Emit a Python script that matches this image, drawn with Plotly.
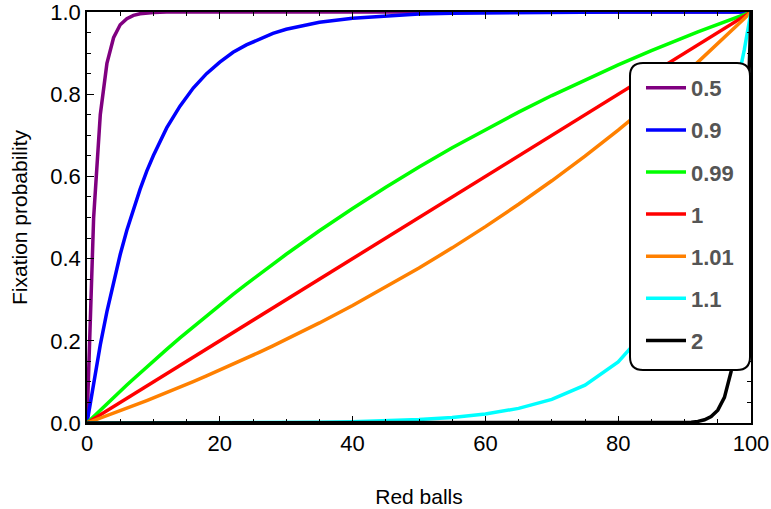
import plotly.graph_objects as go

# Data
red_balls = [0, 1, 2, 3, 4, 5, 6, 7, 8, 9, 10, 12, 14, 16, 18, 20, 22, 24, 26, 28, 30,
             35, 40, 45, 50, 55, 60, 65, 70, 75, 80, 85, 86, 87, 88, 89, 90, 91, 92,
             93, 94, 95, 96, 97, 98, 99, 100]

p_0_5 = [0, 0.5, 0.75, 0.875, 0.9375, 0.969, 0.984, 0.992, 0.996, 0.998, 0.999,
         1, 1, 1, 1, 1, 1, 1, 1, 1, 1, 1, 1, 1, 1, 1, 1, 1, 1, 1, 1, 1, 1, 1, 1, 1,
         1, 1, 1, 1, 1, 1, 1, 1, 1, 1, 1]
p_0_9 = [0, 0.1, 0.19, 0.271, 0.344, 0.41, 0.469, 0.522, 0.569, 0.613, 0.651, 0.718,
         0.771, 0.815, 0.85, 0.878, 0.902, 0.920, 0.935, 0.948, 0.958, 0.975, 0.985,
         0.991, 0.995, 0.997, 0.998, 0.999, 0.999, 1, 1, 1, 1, 1, 1, 1, 1, 1, 1, 1,
         1, 1, 1, 1, 1, 1, 1]
p_0_99 = [0, 0.0158, 0.0314, 0.0468, 0.0621, 0.0773, 0.0923, 0.1071, 0.1219, 0.1364,
          0.1508, 0.1792, 0.2071, 0.2342, 0.2610, 0.2872, 0.3129, 0.3380, 0.3628,
          0.3869, 0.4106, 0.4678, 0.5221, 0.5738, 0.6230, 0.6697, 0.7142, 0.7565,
          0.7968, 0.8350, 0.8715, 0.9060, 0.9128, 0.9194, 0.9260, 0.9325, 0.9390,
          0.9453, 0.9516, 0.9579, 0.9640, 0.9702, 0.9763, 0.9823, 0.9882, 0.9942, 1]
p_1 = [0, 0.01, 0.02, 0.03, 0.04, 0.05, 0.06, 0.07, 0.08, 0.09, 0.10, 0.12, 0.14,
       0.16, 0.18, 0.20, 0.22, 0.24, 0.26, 0.28, 0.30, 0.35, 0.40, 0.45, 0.50, 0.55,
       0.60, 0.65, 0.70, 0.75, 0.80, 0.85, 0.86, 0.87, 0.88, 0.89, 0.90, 0.91, 0.92,
       0.93, 0.94, 0.95, 0.96, 0.97, 0.98, 0.99, 1]
p_1_01 = [0, 0.0058, 0.0118, 0.0177, 0.0237, 0.0298, 0.0360, 0.0421, 0.0484, 0.0547,
          0.0610, 0.0740, 0.0872, 0.1008, 0.1145, 0.1285, 0.1429, 0.1576, 0.1724,
          0.1877, 0.2032, 0.2435, 0.2858, 0.3303, 0.3770, 0.4262, 0.4779, 0.5322,
          0.5894, 0.6495, 0.7128, 0.7793, 0.7929, 0.8068, 0.8208, 0.8349, 0.8492,
          0.8636, 0.8781, 0.8929, 0.9077, 0.9227, 0.9379, 0.9532, 0.9686, 0.9842, 1]
p_1_1 = [0, 0, 0, 0, 0, 0, 0, 0, 0, 0, 0.0001, 0.00016, 0.0002, 0.00026, 0.00033,
         0.00042, 0.00052, 0.00064, 0.00079, 0.00097, 0.0012, 0.002, 0.0032, 0.0052,
         0.0084, 0.0136, 0.0220, 0.0355, 0.0573, 0.0922, 0.1486, 0.2393, 0.2633,
         0.2896, 0.3186, 0.3504, 0.3855, 0.4240, 0.4665, 0.5131, 0.5645, 0.6209,
         0.6830, 0.7513, 0.8264, 0.9091, 1]
p_2 = [0, 0, 0, 0, 0, 0, 0, 0, 0, 0, 0, 0, 0, 0, 0, 0, 0, 0, 0, 0, 0, 0, 0, 0, 0, 0,
       0, 0, 0, 0, 0, 0, 0.00006, 0.00012, 0.00024, 0.0005, 0.001, 0.002, 0.0039,
       0.0078, 0.0156, 0.0313, 0.0625, 0.125, 0.25, 0.5, 1]

labels = ["0.5", "0.9", "0.99", "1", "1.01", "1.1", "2"]
series = [p_0_5, p_0_9, p_0_99, p_1, p_1_01, p_1_1, p_2]
colors = ["#800080", "#0000ff", "#00ff00", "#ff0000", "#ff8000", "#00ffff", "#000000"]

x_ticks = [0, 20, 40, 60, 80, 100]
y_ticks = [0, 0.2, 0.4, 0.6, 0.8, 1.0]

FONT = "Liberation Sans, Arial, Helvetica, sans-serif"

fig = go.Figure()
for lab, ys, col in zip(labels, series, colors):
    fig.add_trace(go.Scatter(
        x=red_balls, y=ys, mode="lines", name=lab, legendgroup=lab,
        line=dict(color=col, width=3.5),
    ))

L, R, T, B = 87, 20, 12, 86
W, H = 771, 509
pw, ph = W - L - R, H - T - B

def px_x(px):
    return (px - L) / pw

def px_y(py):
    return (H - B - py) / ph

# rounded legend box
x0, x1 = px_x(630), px_x(750)
y0, y1 = px_y(370), px_y(63)
rx, ry = 13 / pw, 13 / ph
path = (f"M {x0+rx},{y1} L {x1-rx},{y1} Q {x1},{y1} {x1},{y1-ry} "
        f"L {x1},{y0+ry} Q {x1},{y0} {x1-rx},{y0} L {x0+rx},{y0} "
        f"Q {x0},{y0} {x0},{y0+ry} L {x0},{y1-ry} Q {x0},{y1} {x0+rx},{y1} Z")
fig.add_shape(type="path", path=path, xref="paper", yref="paper",
              line=dict(color="black", width=2), fillcolor="white", layer="above")

axis_common = dict(
    showgrid=False, zeroline=False, showline=True, linecolor="black", linewidth=1.5,
    mirror="allticks", ticks="inside", ticklen=7, tickwidth=1, tickcolor="black",
    automargin=False, ticklabeloverflow="allow",
    tickfont=dict(family=FONT, size=22, color="black"),
)

fig.update_layout(
    width=W, height=H,
    margin=dict(l=L, r=R, t=T, b=B, autoexpand=False),
    plot_bgcolor="white", paper_bgcolor="white",
    showlegend=True,
    legend=dict(
        x=px_x(641), y=px_y(67), xanchor="left", yanchor="top",
        bgcolor="rgba(0,0,0,0)", borderwidth=0,
        font=dict(family=FONT, size=22, color="#555555", weight="bold"),
        tracegroupgap=10.5, itemwidth=40,
    ),
    xaxis=dict(
        range=[0, 100], tickvals=x_ticks,
        minor=dict(ticks="inside", ticklen=4, tickcolor="black", dtick=5, showgrid=False),
        title=dict(text="Red balls", font=dict(family=FONT, size=21, color="black"),
                   standoff=34),
        **axis_common,
    ),
    yaxis=dict(
        range=[0, 1.0001], tickvals=y_ticks, tickformat=".1f",
        minor=dict(ticks="inside", ticklen=4, tickcolor="black", dtick=0.05, showgrid=False),
        title=dict(text="Fixation probability",
                   font=dict(family=FONT, size=21, color="black"), standoff=17),
        **axis_common,
    ),
)

fig.write_html("out.html")
